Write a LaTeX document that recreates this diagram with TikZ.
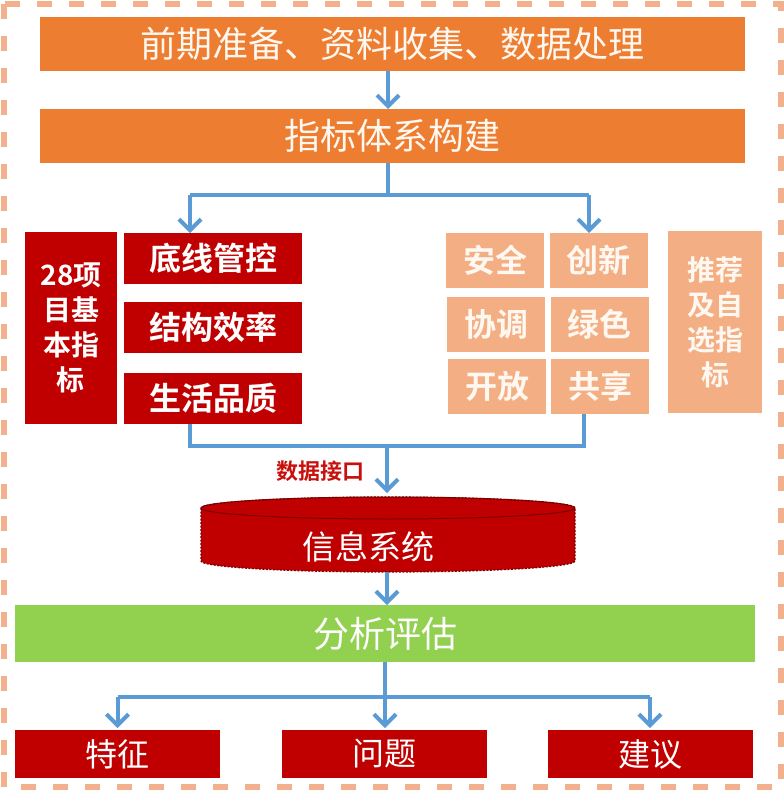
\documentclass[tikz,border=0pt]{standalone}
\usepackage{fontspec}
\newfontfamily\cjk{Noto Sans CJK SC}[BoldFont={Noto Sans CJK SC Bold}]
\usetikzlibrary{arrows.meta}
\definecolor{orangebar}{HTML}{ED7D31}
\definecolor{redbox}{HTML}{C00000}
\definecolor{darkred}{HTML}{7A0000}
\definecolor{labelred}{HTML}{C8100C}
\definecolor{peach}{HTML}{F4AE84}
\definecolor{peachline}{HTML}{F2B08C}
\definecolor{greenbar}{HTML}{92D050}
\definecolor{linkblue}{HTML}{5B9BD5}
\definecolor{cream}{HTML}{FFF8F0}
\tikzset{
  box/.style={inner sep=0pt, outer sep=0pt, align=center},
  orangestrip/.style={box, fill=orangebar, text=cream, minimum width=705pt, minimum height=54pt, font=\cjk\fontsize{36}{40}\selectfont},
  redstrip/.style={box, fill=redbox, text=white, minimum width=178pt, minimum height=51pt, font=\cjk\bfseries\fontsize{32}{36}\selectfont},
  peachcell/.style={box, fill=peach, text=cream, minimum width=98pt, minimum height=55pt, font=\cjk\bfseries\fontsize{32}{36}\selectfont},
  tallbox/.style={box, minimum width=92pt, minimum height=192pt, font=\cjk\bfseries\fontsize{28}{35}\selectfont},
  bottombox/.style={box, fill=redbox, text=white, minimum width=205pt, minimum height=48pt, font=\cjk\fontsize{32}{36}\selectfont},
  link/.style={draw=linkblue, line width=4pt},
  arrowlink/.style={link, -{Straight Barb[length=11pt,width=22pt,line width=4pt]}},
}
\begin{document}
\begin{tikzpicture}[x=1pt,y=-1pt]
\useasboundingbox (0,0) rectangle (784,795);
% dashed frame
\draw[peachline, line width=6pt, dash pattern=on 15pt off 17pt] (3.5,3.5) rectangle (780.5,786.5);

% top bars
\node[orangestrip] (prep) at (392.5,44) {前期准备、资料收集、数据处理};
\node[orangestrip] (build) at (392.5,136) {指标体系构建};

% left column
\node[tallbox, fill=redbox, text=white] (base) at (71,328) {28项\\目基\\本指\\标};
\node[redstrip] (l1) at (213,258.5) {底线管控};
\node[redstrip] (l2) at (213,327.5) {结构效率};
\node[redstrip] (l3) at (213,398) {生活品质};

% right grid
\node[peachcell] (r11) at (495,260.5) {安全};
\node[peachcell] (r12) at (598.5,260.5) {创新};
\node[peachcell] (r21) at (496,324) {协调};
\node[peachcell] (r22) at (599.5,324) {绿色};
\node[peachcell] (r31) at (497,386.5) {开放};
\node[peachcell] (r32) at (600,386.5) {共享};
\node[tallbox, fill=peach, text=cream, minimum width=94pt, minimum height=182pt] (rec) at (715,322) {推荐\\及自\\选指\\标};

% cylinder
\path[fill=redbox] (201,508) -- (201,561) arc[start angle=180,end angle=360,x radius=187pt,y radius=11pt] -- (575,508) arc[start angle=0,end angle=180,x radius=187pt,y radius=11pt] -- cycle;
\draw[darkred, line width=1pt, fill=redbox] (388,508) ellipse[x radius=187pt, y radius=11pt];
\draw[darkred, line width=1.2pt, dash pattern=on 2pt off 1.5pt] (201,508) -- (201,561) arc[start angle=180,end angle=360,x radius=187pt,y radius=11pt] -- (575,508) arc[start angle=0,end angle=180,x radius=187pt,y radius=11pt] -- cycle;
\node[box, minimum width=374pt, minimum height=75pt] (cyl) at (388,534.5) {};
\node[box, text=white, font=\cjk\fontsize{33}{36}\selectfont] (cyltext) at (368,547) {信息系统};

% analysis
\node[box, fill=greenbar, text=white, minimum width=740pt, minimum height=57pt, font=\cjk\fontsize{36}{40}\selectfont] (eval) at (385,633.5) {分析评估};

% results
\node[bottombox] (feat) at (117.5,754) {特征};
\node[bottombox] (prob) at (384.5,754) {问题};
\node[bottombox] (sugg) at (650,754) {建议};

% label
\node[box, text=labelred, font=\cjk\bfseries\fontsize{22}{24}\selectfont] (iface) at (320,471) {数据接口};

% connectors
\coordinate (b0) at (388,195);
\coordinate (bl) at (190,195);
\coordinate (br) at (589,195);
\draw[arrowlink] (prep.south -| b0) -- (build.north -| b0);
\draw[link] (build.south -| b0) -- (b0);
\draw[link] (bl) -- (br);
\draw[arrowlink] (bl) -- (l1.north -| bl);
\draw[arrowlink] (br) -- (r12.north -| br);

\coordinate (ml) at (190,446);
\coordinate (mr) at (584,446);
\coordinate (mm) at (387,446);
\draw[link] (l3.south -| ml) -- (ml) -- (mr) -- (r32.south -| mr);
\draw[arrowlink, shorten >=4pt] (mm) -- (cyl.north -| mm);
\draw[arrowlink] (cyl.south -| mm) -- (eval.north -| mm);

\coordinate (d0) at (385,697);
\coordinate (dl) at (117.5,697);
\coordinate (dr) at (650,697);
\draw[link] (eval.south -| d0) -- (d0);
\draw[link] (dl) -- (dr);
\draw[arrowlink, shorten >=2pt] (dl) -- (feat.north);
\draw[arrowlink, shorten >=2pt] (d0) -- (prob.north -| d0);
\draw[arrowlink, shorten >=2pt] (dr) -- (sugg.north);
\end{tikzpicture}
\end{document}
